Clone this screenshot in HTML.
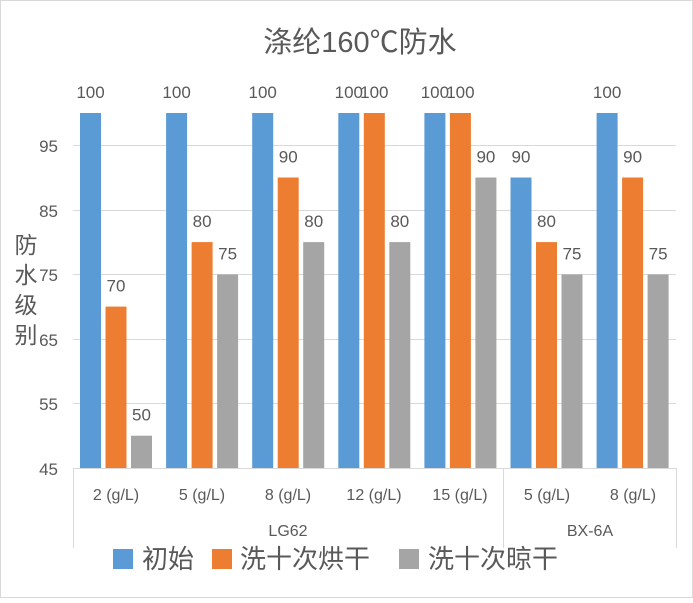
<!DOCTYPE html>
<html><head><meta charset="utf-8"><style>
body{margin:0;background:#fff}
text{font-family:"Liberation Sans","Noto Sans CJK SC",sans-serif;fill:#595959}
</style></head><body>
<svg width="693" height="598" xmlns="http://www.w3.org/2000/svg">
<rect x="0.5" y="0.5" width="692" height="597" fill="#fff" stroke="#d9d9d9"/>
<text x="360" y="52" font-size="29" text-anchor="middle">涤纶160℃防水</text>
<g stroke="#d9d9d9" stroke-width="1">
<line x1="73" x2="676" y1="145.5" y2="145.5"/>
<line x1="73" x2="676" y1="210.5" y2="210.5"/>
<line x1="73" x2="676" y1="274.5" y2="274.5"/>
<line x1="73" x2="676" y1="339.5" y2="339.5"/>
<line x1="73" x2="676" y1="403.5" y2="403.5"/>
<line x1="73" x2="676" y1="468.5" y2="468.5"/>
<line x1="73.5" x2="73.5" y1="468" y2="548"/>
<line x1="503.5" x2="503.5" y1="468" y2="548"/>
<line x1="676.5" x2="676.5" y1="468" y2="548"/>
</g>
<g font-size="17" text-anchor="end">
<text x="58" y="152">95</text><text x="58" y="217">85</text><text x="58" y="281">75</text>
<text x="58" y="346">65</text><text x="58" y="410">55</text><text x="58" y="475">45</text>
</g>
<g font-size="23" text-anchor="middle">
<text x="26" y="253">防</text><text x="26" y="283">水</text><text x="26" y="313">级</text><text x="26" y="343">别</text>
</g>
<g id="bars"></g>
<g font-size="16" text-anchor="middle">
<text x="116" y="500">2 (g/L)</text><text x="202" y="500">5 (g/L)</text><text x="288" y="500">8 (g/L)</text>
<text x="374" y="500">12 (g/L)</text><text x="460" y="500">15 (g/L)</text><text x="547" y="500">5 (g/L)</text><text x="633" y="500">8 (g/L)</text>
<text x="288" y="536">LG62</text><text x="590" y="536">BX-6A</text>
</g>
<rect x="113" y="549" width="20" height="20" fill="#5b9bd5"/>
<text x="142" y="568" font-size="26">初始</text>
<rect x="212" y="549" width="20" height="20" fill="#ed7d31"/>
<text x="240" y="568" font-size="26">洗十次烘干</text>
<rect x="399" y="549" width="20" height="20" fill="#a5a5a5"/>
<text x="428" y="568" font-size="26">洗十次晾干</text>
</svg>
<script>
var d=[[100,70,50],[100,80,75],[100,90,80],[100,100,80],[100,100,90],[90,80,75],[100,90,75]];
var c=["#5b9bd5","#ed7d31","#a5a5a5"],g=document.getElementById("bars"),h="";
function y(v){return 468-(v-45)*6.455;}
for(var i=0;i<7;i++)for(var j=0;j<3;j++){var x=73+i*86.1+7+j*25.5,v=d[i][j];
h+='<rect x="'+x.toFixed(1)+'" y="'+y(v).toFixed(1)+'" width="21" height="'+(468-y(v)).toFixed(1)+'" fill="'+c[j]+'"/>';
h+='<text x="'+(x+10.5).toFixed(1)+'" y="'+(y(v)-15).toFixed(1)+'" font-size="17" text-anchor="middle">'+v+'</text>';}
g.innerHTML=h;
</script>
</body></html>
